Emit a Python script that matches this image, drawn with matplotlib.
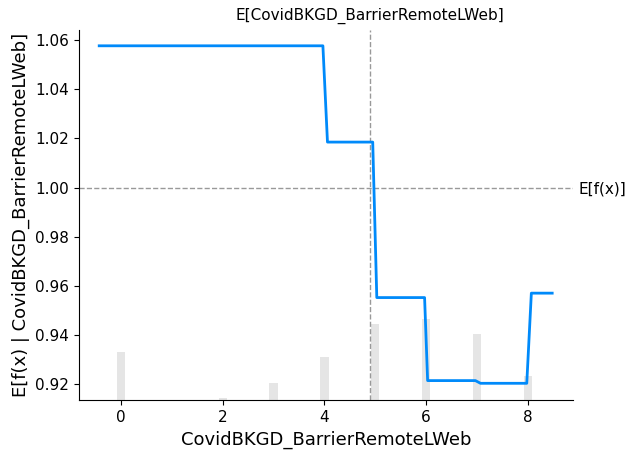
import numpy as np
import matplotlib
matplotlib.use("Agg")
import matplotlib.pyplot as plt

feature = "CovidBKGD_BarrierRemoteLWeb"

# partial dependence curve (breakpoints)
pd_x = [-0.43, 3.97, 4.06, 4.95, 5.03, 5.97, 6.03, 6.97, 7.07, 7.98, 8.07, 8.48]
pd_y = [1.0577, 1.0577, 1.0185, 1.0185, 0.9552, 0.9552, 0.9214, 0.9214, 0.9203, 0.9203, 0.9570, 0.9570]

# feature value histogram
hist_vals = [0, 1, 2, 3, 4, 5, 6, 7, 8]
hist_counts = [48, 0, 2, 17, 43, 76, 81, 66, 24]
n_total = 370

mean_x = 4.90
mean_fx = 1.00

blue = "#008afa"
dash_col = "#999999"

fig, ax = plt.subplots(figsize=(6.36, 4.59), dpi=100)

ax2 = ax.twinx()
ax2.bar(hist_vals, hist_counts, width=0.165, color="black", alpha=0.1, linewidth=0)
ax2.set_ylim(0, n_total)
ax2.set_yticks([])
for s in ax2.spines.values():
    s.set_visible(False)

ax.set_zorder(ax2.get_zorder() + 1)
ax.patch.set_visible(False)

ax.plot(pd_x, pd_y, color=blue, linewidth=2)
ax.axvline(mean_x, color=dash_col, linestyle="--", linewidth=1, zorder=0)
ax.axhline(mean_fx, color=dash_col, linestyle="--", linewidth=1, zorder=0)

ax.set_xlim(-0.83, 8.89)
ax.set_ylim(0.9134, 1.0642)
ax.set_xticks([0, 2, 4, 6, 8])
ax.set_yticks([0.92, 0.94, 0.96, 0.98, 1.00, 1.02, 1.04, 1.06])
ax.tick_params(labelsize=11)
ax.set_xlabel(feature, fontsize=13)
ax.set_ylabel(f"E[f(x) | {feature}]", fontsize=13)
ax.spines["top"].set_visible(False)
ax.spines["right"].set_visible(False)

ax3 = ax.twiny()
ax3.set_xlim(ax.get_xlim())
ax3.set_xticks([mean_x])
ax3.set_xticklabels([f"E[{feature}]"], fontsize=11)
ax3.tick_params(length=0, pad=4)
for s in ax3.spines.values():
    s.set_visible(False)

ax4 = ax.twinx()
ax4.set_ylim(ax.get_ylim())
ax4.set_yticks([mean_fx])
ax4.set_yticklabels(["E[f(x)]"], fontsize=11)
ax4.tick_params(length=0, pad=4)
for s in ax4.spines.values():
    s.set_visible(False)

fig.subplots_adjust(left=0.124, right=0.901, bottom=0.128, top=0.935)
fig.savefig("out.png", dpi=100)
